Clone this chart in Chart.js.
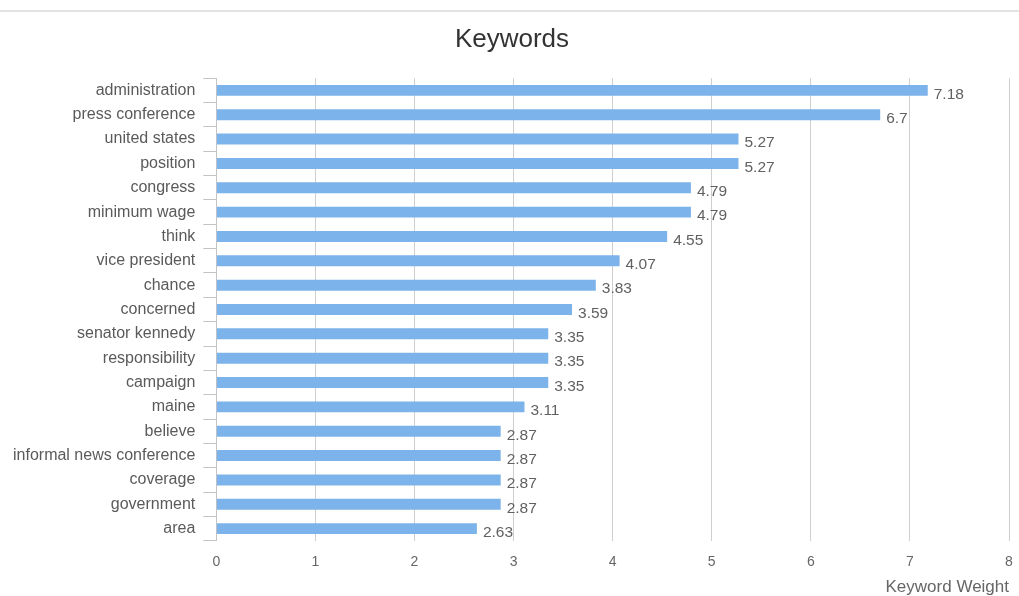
<!DOCTYPE html>
<html>
<head>
<meta charset="utf-8">
<script src="https://cdn.jsdelivr.net/npm/chart.js@4"></script>
<style>
  html, body { margin: 0; padding: 0; background: #fff; }
  #wrap { width: 1019px; height: 596px; position: relative; }
</style>
</head>
<body>
<div id="wrap"><canvas id="kwChart" width="1019" height="596"></canvas></div>
<script>
const keywords = ['administration', 'press conference', 'united states', 'position', 'congress',
  'minimum wage', 'think', 'vice president', 'chance', 'concerned', 'senator kennedy',
  'responsibility', 'campaign', 'maine', 'believe', 'informal news conference', 'coverage',
  'government', 'area'];
const weights = [7.18, 6.7, 5.27, 5.27, 4.79, 4.79, 4.55, 4.07, 3.83, 3.59, 3.35, 3.35, 3.35,
  3.11, 2.87, 2.87, 2.87, 2.87, 2.63];
const xTicks = [0, 1, 2, 3, 4, 5, 6, 7, 8];

(function () {
  const FONT = '"Liberation Sans", Arial, sans-serif';

  // top divider line + value labels
  const extras = {
    id: 'extras',
    beforeDraw(chart) {
      const ctx = chart.ctx;
      ctx.save();
      ctx.fillStyle = '#e3e3e3';
      ctx.fillRect(0, 10, chart.width, 2);
      ctx.restore();
    },
    afterDatasetsDraw(chart) {
      const ctx = chart.ctx;
      const meta = chart.getDatasetMeta(0);
      ctx.save();
      ctx.font = '15.5px ' + FONT;
      ctx.fillStyle = '#616161';
      ctx.textAlign = 'left';
      ctx.textBaseline = 'middle';
      meta.data.forEach(function (bar, i) {
        ctx.fillText(String(weights[i]), bar.x + 6, bar.y + 4);
      });
      ctx.restore();
    }
  };

  new Chart(document.getElementById('kwChart').getContext('2d'), {
    type: 'bar',
    data: {
      labels: keywords,
      datasets: [{
        data: weights,
        backgroundColor: '#7cb3ea',
        borderWidth: 0,
        categoryPercentage: 1,
        barPercentage: 0.45
      }]
    },
    plugins: [extras],
    options: {
      indexAxis: 'y',
      responsive: false,
      animation: false,
      layout: { padding: { left: 5, right: 0, top: 14, bottom: -2 } },
      plugins: {
        legend: { display: false },
        tooltip: { enabled: false },
        title: {
          display: true,
          text: 'Keywords',
          color: '#333',
          font: { family: FONT, size: 26, weight: 'normal' },
          padding: { top: 10, bottom: 23 }
        }
      },
      scales: {
        x: {
          min: 0,
          max: 8,
          afterBuildTicks(axis) { axis.ticks = xTicks.map(function (v) { return { value: v }; }); },
          afterFit(axis) { axis.paddingRight = 10; },
          grid: { color: '#cfcfcf', drawTicks: false },
          border: { display: false },
          ticks: { color: '#666', padding: 13, font: { family: FONT, size: 14 } },
          title: {
            display: true,
            text: 'Keyword Weight',
            align: 'end',
            color: '#666',
            font: { family: FONT, size: 17 },
            padding: { top: -6, bottom: 0 }
          }
        },
        y: {
          grid: { offset: true, drawOnChartArea: false, color: '#c4c4c4', tickLength: 13 },
          border: { display: true, color: '#c4c4c4' },
          ticks: { color: '#5a5a5a', padding: 8, font: { family: FONT, size: 16 } }
        }
      }
    }
  });
})();
</script>
</body>
</html>
